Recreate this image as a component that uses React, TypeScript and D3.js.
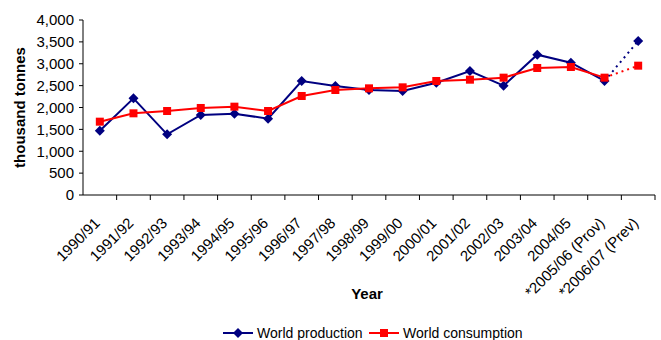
import React from "react";
import * as d3 from "d3";

const years = [
  "1990/91", "1991/92", "1992/93", "1993/94", "1994/95", "1995/96", "1996/97",
  "1997/98", "1998/99", "1999/00", "2000/01", "2001/02", "2002/03", "2003/04",
  "2004/05", "*2005/06 (Prov)", "*2006/07 (Prev)",
];
const production = [1470, 2210, 1387, 1829, 1859, 1745, 2606, 2491, 2400, 2377, 2567, 2834, 2499, 3207, 3024, 2606, 3520];
const consumption = [1676, 1867, 1920, 1989, 2019, 1920, 2263, 2400, 2438, 2461, 2606, 2636, 2682, 2903, 2926, 2682, 2956];
const yTicks = [0, 500, 1000, 1500, 2000, 2500, 3000, 3500, 4000];

const W = 661;
const H = 340;
const left = 83;
const right = 655;
const top = 20;
const bottom = 195;
const BLUE = "#000080";
const RED = "#FF0000";
const FONT = "'Liberation Sans', Arial, sans-serif";

export default function App() {
  const x = d3.scaleBand<string>().domain(years).range([left, right]).padding(0);
  const y = d3.scaleLinear().domain([0, 4000]).range([bottom, top]);
  const cx = (i: number) => (x(years[i]) as number) + x.bandwidth() / 2;
  const line = d3.line<number>().x((_, i) => cx(i)).y((d) => y(d));
  const nSolid = years.length - 1;
  const fmt = d3.format(",");

  const diamond = "M0,-5L5,0L0,5L-5,0Z";

  const series = [
    { values: production, color: BLUE, kind: "diamond" },
    { values: consumption, color: RED, kind: "square" },
  ];

  const marker = (kind: string, color: string, px: number, py: number, key: string) =>
    kind === "diamond" ? (
      <path key={key} d={diamond} transform={`translate(${px},${py})`} fill={color} />
    ) : (
      <rect key={key} x={px - 4} y={py - 4} width={8} height={8} fill={color} />
    );

  return (
    <svg width={W} height={H} style={{ position: "absolute", left: 0, top: 0, background: "#fff" }}>
      {/* y axis */}
      <line x1={left} x2={left} y1={top} y2={bottom} stroke="#000" />
      {yTicks.map((t) => (
        <g key={t}>
          <line x1={left - 4} x2={left} y1={y(t)} y2={y(t)} stroke="#000" />
          <text x={left - 9} y={y(t)} dy="0.35em" textAnchor="end" fontFamily={FONT} fontSize={15}>
            {fmt(t)}
          </text>
        </g>
      ))}
      {/* x axis */}
      <line x1={left} x2={right} y1={bottom} y2={bottom} stroke="#000" />
      {years.map((yr) => (
        <line key={yr} x1={(x(yr) as number) + x.bandwidth()} x2={(x(yr) as number) + x.bandwidth()} y1={bottom} y2={bottom + 5} stroke="#000" />
      ))}
      {years.map((yr, i) => (
        <text
          key={"l" + yr}
          transform={`translate(${cx(i) + 1},${bottom + 29}) rotate(-45)`}
          textAnchor="end"
          fontFamily={FONT}
          fontSize={15}
        >
          {yr}
        </text>
      ))}
      {/* titles */}
      <text transform={`translate(25,${(top + bottom) / 2}) rotate(-90)`} textAnchor="middle" fontFamily={FONT} fontSize={15} fontWeight="bold">
        thousand tonnes
      </text>
      <text x={367} y={299} textAnchor="middle" fontFamily={FONT} fontSize={15} fontWeight="bold">
        Year
      </text>
      {/* series */}
      {series.map((s) => (
        <g key={s.color}>
          <path d={line(s.values.slice(0, nSolid)) as string} fill="none" stroke={s.color} strokeWidth={2} />
          <line
            x1={cx(nSolid - 1)}
            y1={y(s.values[nSolid - 1])}
            x2={cx(nSolid)}
            y2={y(s.values[nSolid])}
            stroke={s.color}
            strokeWidth={2}
            strokeDasharray="2,4"
          />
          {s.values.map((v, i) => marker(s.kind, s.color, cx(i), y(v), s.color + i))}
        </g>
      ))}
      {/* legend */}
      <g fontFamily={FONT} fontSize={14}>
        <line x1={223} x2={253} y1={333} y2={333} stroke={BLUE} strokeWidth={2} />
        {marker("diamond", BLUE, 238, 333, "lg1")}
        <text x={257} y={333} dy="0.35em">World production</text>
        <line x1={369} x2={399} y1={333} y2={333} stroke={RED} strokeWidth={2} />
        {marker("square", RED, 384, 333, "lg2")}
        <text x={403} y={333} dy="0.35em">World consumption</text>
      </g>
    </svg>
  );
}
